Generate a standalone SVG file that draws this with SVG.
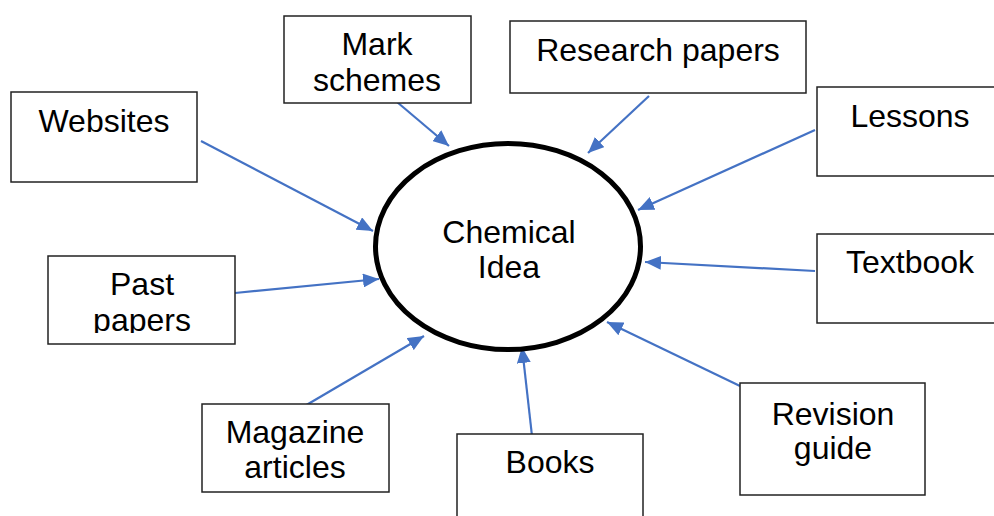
<svg xmlns="http://www.w3.org/2000/svg" width="994" height="516" viewBox="0 0 994 516">
  <style>
    .box { fill: #ffffff; stroke: #222222; stroke-width: 1.5; }
    .lbl { font-family: "Liberation Sans", Arial, sans-serif; font-size: 32px; fill: #000000; text-anchor: middle; }
    .conn { stroke: #4472C4; stroke-width: 2.2; fill: none; marker-end: url(#arrow); }
  </style>
  <defs>
    <marker id="arrow" markerUnits="userSpaceOnUse" markerWidth="17" markerHeight="14" refX="16" refY="7" orient="auto">
      <path d="M0,0 L16,7 L0,14 z" fill="#4472C4"/>
    </marker>
    <clipPath id="pastClip">
      <rect x="48" y="256" width="187" height="77"/>
    </clipPath>
  </defs>
  <rect width="994" height="516" fill="#ffffff"/>

  <g id="connectors">
    <line class="conn" x1="397" y1="102" x2="449" y2="146"/>
    <line class="conn" x1="649" y1="96" x2="588" y2="153"/>
    <line class="conn" x1="201" y1="141" x2="373" y2="231"/>
    <line class="conn" x1="815" y1="130" x2="638" y2="210"/>
    <line class="conn" x1="815" y1="271" x2="645" y2="262"/>
    <line class="conn" x1="235" y1="293" x2="379" y2="279"/>
    <line class="conn" x1="740" y1="386" x2="607" y2="322"/>
    <line class="conn" x1="303" y1="407" x2="424" y2="336"/>
    <line class="conn" x1="532" y1="436" x2="522" y2="347"/>
  </g>

  <g id="center">
    <ellipse cx="508" cy="246.5" rx="132.5" ry="103" fill="none" stroke="#000000" stroke-width="5"/>
    <text class="lbl" x="509" y="243">Chemical</text>
    <text class="lbl" x="509" y="278">Idea</text>
  </g>

  <g id="mark-schemes">
    <rect class="box" x="284" y="16" width="187" height="87"/>
    <text class="lbl" x="377" y="55">Mark</text>
    <text class="lbl" x="377" y="91">schemes</text>
  </g>

  <g id="research-papers">
    <rect class="box" x="510" y="21" width="296" height="72"/>
    <text class="lbl" x="658" y="61">Research papers</text>
  </g>

  <g id="websites">
    <rect class="box" x="11" y="92" width="186" height="90"/>
    <text class="lbl" x="104" y="132">Websites</text>
  </g>

  <g id="lessons">
    <rect class="box" x="817" y="87" width="190" height="89"/>
    <text class="lbl" x="910" y="127">Lessons</text>
  </g>

  <g id="textbook">
    <rect class="box" x="817" y="234" width="190" height="89"/>
    <text class="lbl" x="910" y="273">Textbook</text>
  </g>

  <g id="past-papers">
    <rect class="box" x="48" y="256" width="187" height="88"/>
    <text class="lbl" x="142" y="295">Past</text>
    <text class="lbl" x="142" y="331" clip-path="url(#pastClip)">papers</text>
  </g>

  <g id="magazine-articles">
    <rect class="box" x="202" y="404" width="187" height="88"/>
    <text class="lbl" x="295" y="443">Magazine</text>
    <text class="lbl" x="295" y="478">articles</text>
  </g>

  <g id="books">
    <rect class="box" x="457" y="434" width="186" height="90"/>
    <text class="lbl" x="550" y="473">Books</text>
  </g>

  <g id="revision-guide">
    <rect class="box" x="740" y="383" width="185" height="112"/>
    <text class="lbl" x="833" y="425">Revision</text>
    <text class="lbl" x="833" y="459">guide</text>
  </g>
</svg>
